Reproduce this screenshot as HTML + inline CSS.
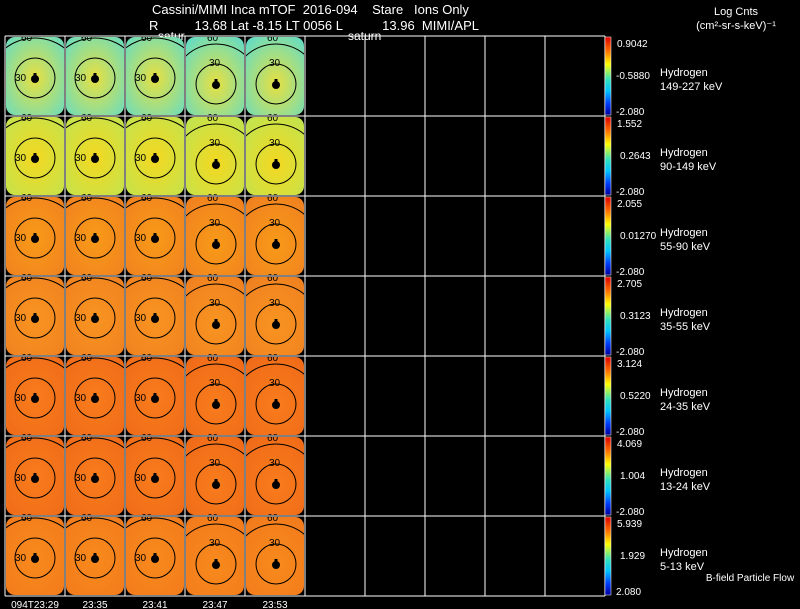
<!DOCTYPE html>
<html><head><meta charset="utf-8"><style>
body{margin:0;background:#000;width:800px;height:609px;overflow:hidden}
svg{display:block;font-family:"Liberation Sans",sans-serif}
text{fill:#fff;white-space:pre}
</style></head><body>
<svg id="c" width="800" height="609" xml:space="preserve">
<defs>
<linearGradient id="rb" x1="0" y1="0" x2="0" y2="1">
<stop offset="0" stop-color="#e00000"/><stop offset="0.18" stop-color="#ff7000"/><stop offset="0.35" stop-color="#ffff00"/><stop offset="0.55" stop-color="#30e0c0"/><stop offset="0.7" stop-color="#00c0ff"/><stop offset="0.85" stop-color="#0040ff"/><stop offset="1" stop-color="#0000a0"/>
</linearGradient>
</defs>
<text x="152" y="14" font-size="13">Cassini/MIMI Inca mTOF  2016-094    Stare   Ions Only</text>
<text x="149" y="30" font-size="13">R          13.68 Lat -8.15 LT 0056 L           13.96  MIMI/APL</text>
<text x="158" y="40" font-size="12">satur</text>
<text x="348" y="40" font-size="12">saturn</text>
<text x="736" y="15" font-size="11" text-anchor="middle">Log Cnts</text>
<text x="736" y="29" font-size="11" text-anchor="middle">(cm²-sr-s-keV)⁻¹</text>
<text x="750" y="581" font-size="10" text-anchor="middle">B-field Particle Flow</text>
<g id="g"></g>
</svg>
<script>
const rowLabels=["149-227 keV","90-149 keV","55-90 keV","35-55 keV","24-35 keV","13-24 keV","5-13 keV"];
const cbMax=["0.9042","1.552","2.055","2.705","3.124","4.069","5.939"];
const cbMid=["-0.5880","0.2643","0.01270","0.3123","0.5220","1.004","1.929"];
const cbMin=["-2.080","-2.080","-2.080","-2.080","-2.080","-2.080","2.080"];
const times=["094T23:29","23:35","23:41","23:47","23:53"];
const outerColor=["#60dcc8","#c0e450","#f08020","#f08020","#f06a18","#f06a18","#f27a1c"];
const innerColor=["#e8e040","#f4d820","#f89a18","#f89420","#f87c1c","#f87c1c","#f88a1c"];
const NS="http://www.w3.org/2000/svg";
const g=document.getElementById('g');
const X0=5,Y0=36,CW=60,RH=80,NC=10,NR=7;
function mk(t,a){const e=document.createElementNS(NS,t);for(const k in a)e.setAttribute(k,a[k]);g.appendChild(e);return e;}
for(let r=0;r<NR;r++){
 const y=Y0+r*RH;
 for(let c=0;c<times.length;c++){
  const x=X0+c*CW;
  const shifted=c>=3;
  const cx=x+30+(shifted?1:0), cy=y+(shifted?48:42);
  const gid='gr'+r+'_'+c;
  const gr=mk('radialGradient',{id:gid,cx:(cx-x)/60,cy:(cy-y)/80,r:0.75});
  const s1=document.createElementNS(NS,'stop');s1.setAttribute('offset','0');s1.setAttribute('stop-color',innerColor[r]);gr.appendChild(s1);
  const s2=document.createElementNS(NS,'stop');s2.setAttribute('offset','1');s2.setAttribute('stop-color',outerColor[r]);gr.appendChild(s2);
  const img=mk('rect',{x:x+1,y:y+1,width:58,height:78,rx:9,fill:'url(#'+gid+')'});
  
  
  const clipId='cl'+r+'_'+c;
  const cp=mk('clipPath',{id:clipId});const cr=document.createElementNS(NS,'rect');cr.setAttribute('x',x);cr.setAttribute('y',y);cr.setAttribute('width',60);cr.setAttribute('height',80);cp.appendChild(cr);
  mk('circle',{cx:cx,cy:shifted?y+52:y+50,r:shifted?44:48,fill:'none',stroke:'#000','stroke-width':1,'clip-path':'url(#'+clipId+')'});
  mk('circle',{cx:cx,cy:cy,r:20,fill:'none',stroke:'#000','stroke-width':1});
  mk('circle',{cx:cx,cy:cy+1,r:4,fill:'#000'});
  mk('rect',{x:cx-1.5,y:cy-5,width:3,height:4,fill:'#000'});
  const t30=mk('text',{x:shifted?cx-7:x+10,y:shifted?y+30:y+45,'font-size':10,style:'fill:#000'});t30.textContent='30';
  const t60=mk('text',{x:x+(shifted?22:16),y:y+5,'font-size':10,style:'fill:#000'});t60.textContent='60';
 }
 for(let c=0;c<=NC;c++){mk('line',{x1:X0+c*CW,y1:y,x2:X0+c*CW,y2:y+RH,stroke:'#fff','stroke-width':1});}
 mk('line',{x1:X0,y1:y,x2:X0+NC*CW,y2:y,stroke:'#fff'});
 mk('line',{x1:X0,y1:y+RH,x2:X0+NC*CW,y2:y+RH,stroke:'#fff'});
 const cb=mk('rect',{x:605,y:y+1,width:6,height:RH-2,fill:'url(#rb)',stroke:'#fff','stroke-width':0.5});
 
 
 const tmax=mk('text',{x:617,y:y+11,'font-size':10});tmax.textContent=cbMax[r];
 const tmid=mk('text',{x:cbMid[r].startsWith('-')?616:620,y:y+43,'font-size':10});tmid.textContent=cbMid[r];
 const tmin=mk('text',{x:616,y:y+RH-1,'font-size':10});tmin.textContent=cbMin[r];
 const h1=mk('text',{x:660,y:y+40,'font-size':11});h1.textContent='Hydrogen';
 
 
 const h2=mk('text',{x:660,y:y+54,'font-size':11});h2.textContent=rowLabels[r];
 
 
}
for(let c=0;c<times.length;c++){
 const t=mk('text',{x:X0+c*CW+30,y:608,'font-size':10,'text-anchor':'middle'});t.textContent=times[c];
 
 
}
</script>
</body></html>
